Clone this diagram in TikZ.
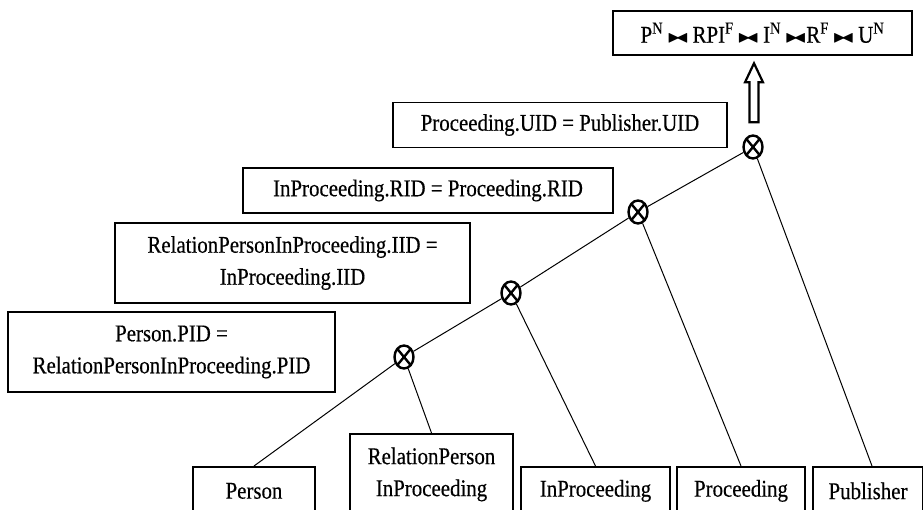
\documentclass[tikz,border=0pt]{standalone}
\usepackage{amssymb}
\usepackage{fontspec}
\setmainfont{Liberation Serif}[FakeStretch=0.87, FakeBold=0.4]
\usetikzlibrary{
    calc,
    positioning,
    shapes.geometric
}
\definecolor{ink}{RGB}{0,0,0}
\tikzset{
    line join=miter,
    box/.style={
        rectangle,
        draw=ink,
        line width=1.8pt,
        inner sep=0pt,
        align=center,
        text=ink,
        font=\fontsize{24}{32}\selectfont
    },
    condbox/.style={box, minimum height=45pt},
    condbox2/.style={box, minimum height=80pt},
    tablebox/.style={box, anchor=north, minimum height=48pt},
    resultbox/.style={box, minimum width=299pt, minimum height=44pt},
    joinop/.style={
        ellipse,
        draw=ink,
        line width=2.4pt,
        minimum width=19pt,
        minimum height=23pt,
        inner sep=0pt,
        path picture={
            \draw[ink, line width=2.4pt]
                (path picture bounding box.north west) -- (path picture bounding box.south east)
                (path picture bounding box.north east) -- (path picture bounding box.south west);
        }
    },
    branch/.style={
        -,
        draw=ink,
        line width=1pt
    },
    bigarrow/.style={
        draw=ink,
        line width=2.2pt,
        fill=white
    }
}
\newcommand{\jn}{\,\mbox{$\scriptstyle\blacktriangleright\mkern-5mu\blacktriangleleft$}\,}

\begin{document}
\begin{tikzpicture}[x=1pt, y=-1pt]

\useasboundingbox (0,0) rectangle (923,510);

% === result of the join tree ===
\node[resultbox] (res) at (762.5, 33)
    {P\textsuperscript{N}\jn RPI\textsuperscript{F}\jn I\textsuperscript{N}\jn\!R\textsuperscript{F}\jn U\textsuperscript{N}};

% === join operators ===
\node[joinop] (j1) at (753, 147) {};
\node[joinop] (j2) at (638, 212) {};
\node[joinop] (j3) at (511, 293) {};
\node[joinop] (j4) at (404, 357) {};

% === join conditions ===
\node[condbox, minimum width=334pt] (c1) at (560, 125) {Proceeding.UID = Publisher.UID};
\node[condbox, minimum width=370pt] (c2) at (428, 190.5) {InProceeding.RID = Proceeding.RID};
\node[condbox2, minimum width=355pt] (c3) at (292.5, 263)
    {RelationPersonInProceeding.IID =\\InProceeding.IID};
\node[condbox2, minimum width=327pt] (c4) at (171.5, 352)
    {Person.PID =\\RelationPersonInProceeding.PID};

% === base tables (cut by the bottom edge) ===
\node[tablebox, minimum width=122pt] (person) at (254, 466) {Person};
\node[tablebox, minimum width=163pt, minimum height=81pt] (relpip) at (431.5, 433)
    {RelationPerson\\InProceeding};
\node[tablebox, minimum width=149pt] (inproc) at (595.5, 466) {InProceeding};
\node[tablebox, minimum width=128pt] (proc) at (741, 466) {Proceeding};
\node[tablebox, minimum width=110pt] (publ) at (868, 466) {Publisher};

% left-deep spine
\draw[branch] (person.north) -- (j4);
\draw[branch] (j4) -- (j3);
\draw[branch] (j3) -- (j2);
\draw[branch] (j2) -- (j1);

% right inputs
\draw[branch] (j4) -- (relpip.north);
\draw[branch] (j3) -- (inproc.north);
\draw[branch] (j2) -- (proc.north);
\draw[branch] (j1) -- (publ.north -| 872, 0);

% hollow arrow up to the result
\coordinate (abase) at ($(j1.north)+(1,-12)$);
\draw[bigarrow] (abase) ++(-4.5,0) -- ++(0,-40) -- ++(-4.5,0) -- ++(9,-19)
    -- ++(9,19) -- ++(-4.5,0) -- ++(0,40) -- cycle;

\end{tikzpicture}
\end{document}
